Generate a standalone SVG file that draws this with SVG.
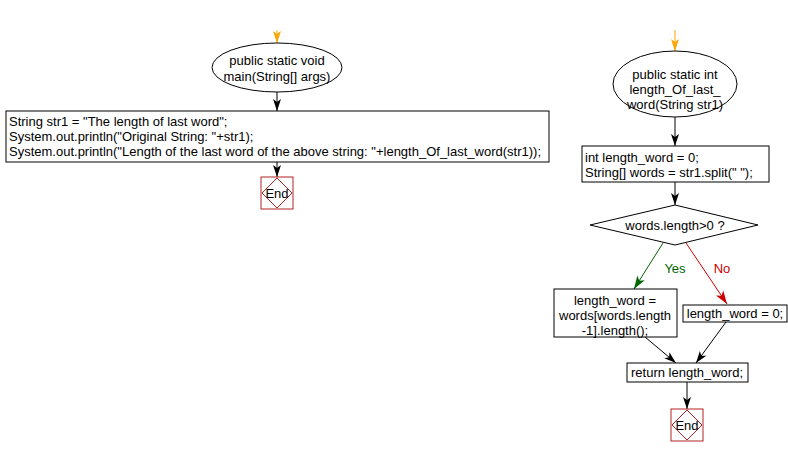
<svg xmlns="http://www.w3.org/2000/svg" width="788" height="457" viewBox="0 0 788 457">
<style>
text{font-family:"Liberation Sans",Arial,sans-serif;font-size:13px;fill:#000}
.c{text-anchor:middle}
.n{fill:#fff;stroke:#000;stroke-width:1}
.e{fill:#fff;stroke:#b22222;stroke-width:1}
.k{stroke:#000;stroke-width:1;fill:none}
</style>
<defs>
<marker id="ab" viewBox="0 0 12 10" refX="12" refY="5" markerWidth="13" markerHeight="10" markerUnits="userSpaceOnUse" orient="auto"><path d="M0,1 L12,5 L0,9 L3,5 Z" fill="#000"/></marker>
<marker id="ao" viewBox="0 0 12 10" refX="12" refY="5" markerWidth="13" markerHeight="10" markerUnits="userSpaceOnUse" orient="auto"><path d="M0,1 L12,5 L0,9 L3,5 Z" fill="#ffa500"/></marker>
<marker id="ag" viewBox="0 0 12 10" refX="12" refY="5" markerWidth="14" markerHeight="11" markerUnits="userSpaceOnUse" orient="auto"><path d="M0,1 L12,5 L0,9 L3,5 Z" fill="#006400"/></marker>
<marker id="ar" viewBox="0 0 12 10" refX="12" refY="5" markerWidth="14" markerHeight="11" markerUnits="userSpaceOnUse" orient="auto"><path d="M0,1 L12,5 L0,9 L3,5 Z" fill="#cc0000"/></marker>
</defs>
<g id="connectors">
<line x1="277" y1="30" x2="277" y2="43" stroke="#ffa500" stroke-width="1" marker-end="url(#ao)"/>
<line x1="277" y1="92" x2="277" y2="111" class="k" marker-end="url(#ab)"/>
<line x1="277" y1="162" x2="277" y2="177" class="k" marker-end="url(#ab)"/>
<line x1="675" y1="30" x2="675" y2="51" stroke="#ffa500" stroke-width="1" marker-end="url(#ao)"/>
<line x1="675" y1="117" x2="675" y2="146" class="k" marker-end="url(#ab)"/>
<line x1="675" y1="182" x2="675" y2="205" class="k" marker-end="url(#ab)"/>
<line x1="663" y1="243" x2="634" y2="289" stroke="#006400" stroke-width="1" marker-end="url(#ag)"/>
<line x1="686" y1="243" x2="727" y2="304" stroke="#cc0000" stroke-width="1" marker-end="url(#ar)"/>
<line x1="645" y1="337" x2="676" y2="363" class="k" marker-end="url(#ab)"/>
<line x1="726" y1="322" x2="696" y2="363" class="k" marker-end="url(#ab)"/>
<line x1="687" y1="382" x2="687" y2="409" class="k" marker-end="url(#ab)"/>
<text x="675" y="273" class="c" style="fill:#006400">Yes</text>
<text x="722" y="273" class="c" style="fill:#cc0000">No</text>
</g>
<g id="main">
<ellipse cx="277" cy="67.5" rx="65" ry="24.5" class="n"/>
<text x="277" y="65" class="c">public static void</text>
<text x="277" y="81" class="c">main(String[] args)</text>
</g>
<g id="mainbody">
<rect x="6" y="111" width="543" height="51" class="n"/>
<text x="9" y="126">String str1 = "The length of last word";</text>
<text x="9" y="141">System.out.println("Original String: "+str1);</text>
<text x="9" y="156">System.out.println("Length of the last word of the above string: "+length_Of_last_word(str1));</text>
</g>
<g id="end1">
<rect x="261" y="177" width="32" height="32" class="e"/>
<polygon points="277,178 292,193 277,208 262,193" class="e"/>
<text x="277" y="198" class="c">End</text>
</g>
<g id="func">
<ellipse cx="675" cy="84" rx="62" ry="33" class="n"/>
<text x="675" y="79" class="c">public static int</text>
<text x="675" y="94" class="c">length_Of_last_</text>
<text x="675" y="109" class="c">word(String str1)</text>
</g>
<g id="init">
<rect x="582" y="146" width="187" height="36" class="n"/>
<text x="585" y="162">int length_word = 0;</text>
<text x="585" y="177">String[] words = str1.split(" ");</text>
</g>
<g id="decision">
<polygon points="675,205 758,225 675,245 590,225" class="n"/>
<text x="675" y="230" class="c">words.length&gt;0 ?</text>
</g>
<g id="yesbox">
<rect x="554" y="289" width="123" height="48" class="n"/>
<text x="615" y="305" class="c">length_word =</text>
<text x="615" y="320" class="c">words[words.length</text>
<text x="615" y="335" class="c">-1].length();</text>
</g>
<g id="nobox">
<rect x="683" y="305" width="104" height="17" class="n"/>
<text x="735" y="318" class="c">length_word = 0;</text>
</g>
<g id="return">
<rect x="627" y="363" width="121" height="19" class="n"/>
<text x="687" y="377" class="c">return length_word;</text>
</g>
<g id="end2">
<rect x="671" y="409" width="32" height="32" class="e"/>
<polygon points="687,410 702,425 687,440 672,425" class="e"/>
<text x="687" y="430" class="c">End</text>
</g>
</svg>
